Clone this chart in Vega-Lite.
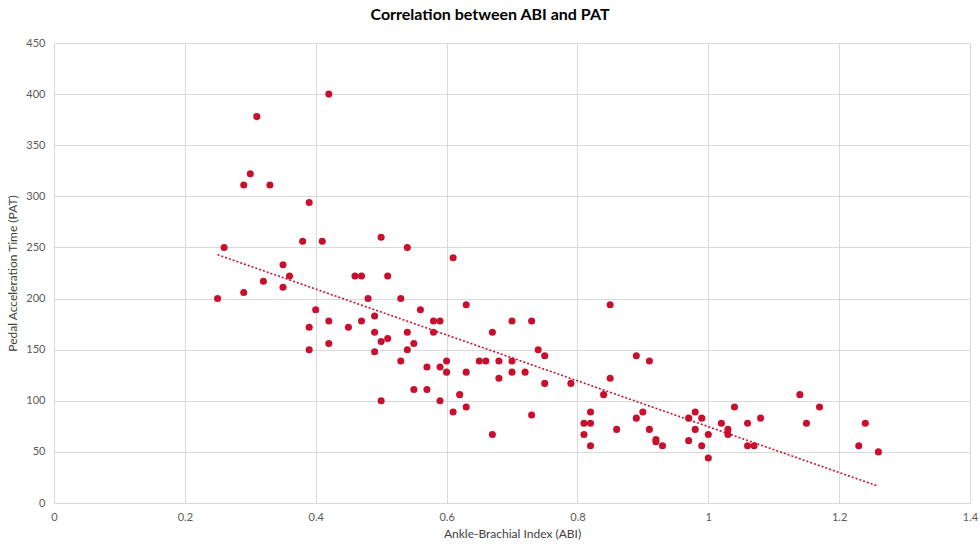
{
  "$schema": "https://vega.github.io/schema/vega-lite/v6.json",
  "width": 916,
  "height": 460,
  "autosize": {"type": "none"},
  "padding": {"left": 54, "top": 43, "right": 10, "bottom": 47},
  "background": "white",
  "title": {"text": "Correlation between ABI and PAT", "font": "Lato", "fontSize": 16, "fontWeight": "bold", "color": "#000000", "anchor": "middle", "offset": 14, "dx": -22},
  "config": {
    "view": {"stroke": null},
    "axis": {"labelFont": "Lato", "titleFont": "Lato", "labelColor": "#595959", "titleColor": "#404040", "labelFontSize": 11, "titleFontSize": 12, "titleFontWeight": "normal", "gridColor": "#d9d9d9", "gridWidth": 1, "domain": false, "ticks": false}
  },
  "data": {"values": [
    {"abi":0.25,"pat":200},{"abi":0.26,"pat":250},{"abi":0.29,"pat":311},{"abi":0.29,"pat":206},{"abi":0.30,"pat":322},
    {"abi":0.31,"pat":378},{"abi":0.32,"pat":217},{"abi":0.33,"pat":311},{"abi":0.35,"pat":233},{"abi":0.35,"pat":211},
    {"abi":0.36,"pat":222},{"abi":0.38,"pat":256},{"abi":0.39,"pat":294},{"abi":0.39,"pat":172},{"abi":0.39,"pat":150},
    {"abi":0.40,"pat":189},{"abi":0.41,"pat":256},{"abi":0.42,"pat":400},{"abi":0.42,"pat":178},{"abi":0.42,"pat":156},
    {"abi":0.45,"pat":172},{"abi":0.46,"pat":222},{"abi":0.47,"pat":222},{"abi":0.47,"pat":178},{"abi":0.48,"pat":200},
    {"abi":0.49,"pat":183},{"abi":0.49,"pat":167},{"abi":0.49,"pat":148},{"abi":0.50,"pat":260},{"abi":0.50,"pat":158},
    {"abi":0.50,"pat":100},{"abi":0.51,"pat":222},{"abi":0.51,"pat":161},{"abi":0.53,"pat":200},{"abi":0.53,"pat":139},
    {"abi":0.54,"pat":250},{"abi":0.54,"pat":167},{"abi":0.54,"pat":150},{"abi":0.55,"pat":156},{"abi":0.55,"pat":111},
    {"abi":0.56,"pat":189},{"abi":0.57,"pat":133},{"abi":0.57,"pat":111},{"abi":0.58,"pat":178},{"abi":0.58,"pat":167},
    {"abi":0.59,"pat":178},{"abi":0.59,"pat":133},{"abi":0.59,"pat":100},{"abi":0.60,"pat":139},{"abi":0.60,"pat":128},
    {"abi":0.61,"pat":240},{"abi":0.61,"pat":89},{"abi":0.62,"pat":106},{"abi":0.63,"pat":194},{"abi":0.63,"pat":128},
    {"abi":0.63,"pat":94},{"abi":0.65,"pat":139},{"abi":0.66,"pat":139},{"abi":0.67,"pat":167},{"abi":0.67,"pat":67},
    {"abi":0.68,"pat":139},{"abi":0.68,"pat":122},{"abi":0.70,"pat":178},{"abi":0.70,"pat":139},{"abi":0.70,"pat":128},
    {"abi":0.72,"pat":128},{"abi":0.73,"pat":178},{"abi":0.73,"pat":86},{"abi":0.74,"pat":150},{"abi":0.75,"pat":144},
    {"abi":0.75,"pat":117},{"abi":0.79,"pat":117},{"abi":0.81,"pat":78},{"abi":0.81,"pat":67},{"abi":0.82,"pat":89},
    {"abi":0.82,"pat":78},{"abi":0.82,"pat":56},{"abi":0.84,"pat":106},{"abi":0.85,"pat":194},{"abi":0.85,"pat":122},
    {"abi":0.86,"pat":72},{"abi":0.89,"pat":144},{"abi":0.89,"pat":83},{"abi":0.90,"pat":89},{"abi":0.91,"pat":139},
    {"abi":0.91,"pat":72},{"abi":0.92,"pat":62},{"abi":0.92,"pat":60},{"abi":0.93,"pat":56},{"abi":0.97,"pat":83},
    {"abi":0.97,"pat":61},{"abi":0.98,"pat":89},{"abi":0.98,"pat":72},{"abi":0.99,"pat":83},{"abi":0.99,"pat":56},
    {"abi":1.00,"pat":67},{"abi":1.00,"pat":44},{"abi":1.02,"pat":78},{"abi":1.03,"pat":72},{"abi":1.03,"pat":67},
    {"abi":1.04,"pat":94},{"abi":1.06,"pat":78},{"abi":1.06,"pat":56},{"abi":1.07,"pat":56},{"abi":1.08,"pat":83},
    {"abi":1.14,"pat":106},{"abi":1.15,"pat":78},{"abi":1.17,"pat":94},{"abi":1.23,"pat":56},{"abi":1.24,"pat":78},
    {"abi":1.26,"pat":50}
  ]},
  "encoding": {
    "x": {"field": "abi", "type": "quantitative", "title": "Ankle-Brachial Index (ABI)", "scale": {"domain": [0, 1.4], "nice": false, "zero": false}, "axis": {"values": [0, 0.2, 0.4, 0.6, 0.8, 1, 1.2, 1.4], "labelExpr": "'' + datum.value", "labelPadding": 8, "titlePadding": 6, "labelFlush": false}},
    "y": {"field": "pat", "type": "quantitative", "title": "Pedal Acceleration Time (PAT)", "scale": {"domain": [0, 450], "nice": false}, "axis": {"values": [0, 50, 100, 150, 200, 250, 300, 350, 400, 450], "labelPadding": 9, "titlePadding": 6}}
  },
  "layer": [
    {"mark": {"type": "point", "filled": true, "shape": "circle", "size": 50, "color": "#c8102e", "opacity": 1}},
    {"transform": [{"regression": "pat", "on": "abi", "method": "linear", "extent": [0.25, 1.26]}],
     "mark": {"type": "line", "color": "#c8102e", "strokeWidth": 1.6, "strokeDash": [2, 2]}}
  ]
}
